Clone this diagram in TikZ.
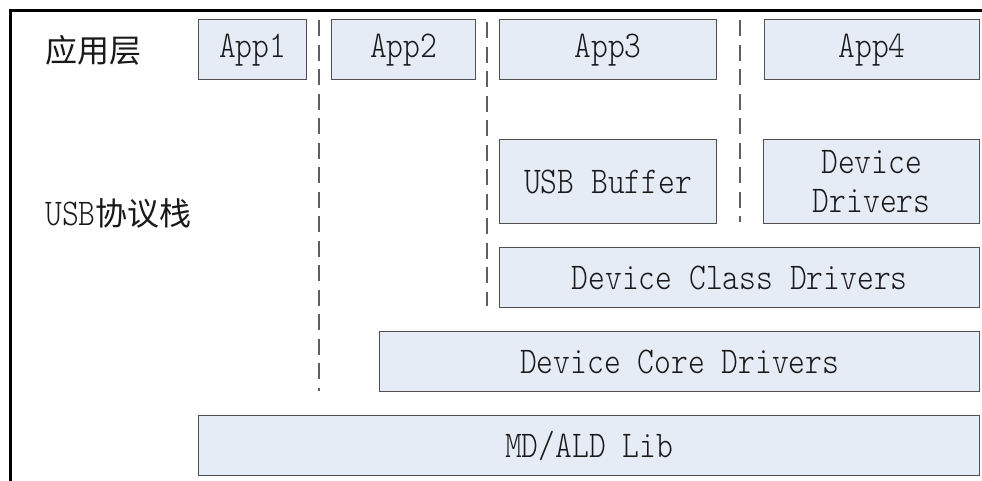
\documentclass[tikz,border=0pt]{standalone}
\usepackage{fontspec}
\newfontfamily\cjk{Noto Sans CJK SC}
\newfontfamily\lmlight{Latin Modern Mono Light}
\newcommand{\tx}[1]{\scalebox{1}[1.18]{#1}}
\definecolor{boxfill}{RGB}{230,236,246}
\definecolor{boxline}{RGB}{80,80,80}
\definecolor{sepgray}{RGB}{95,95,95}
\begin{document}
\begin{tikzpicture}[x=1pt,y=-1pt,
  box/.style={draw=boxline, fill=boxfill, line width=1.2pt, inner sep=0pt, anchor=north west,
    font=\fontsize{32}{39}\selectfont\lmlight, align=center, text=black!90},
  sepline/.style={draw=sepgray, line width=1.3pt, dash pattern=on 16pt off 8.5pt},
  lbl/.style={anchor=west, inner sep=0pt, font=\fontsize{32}{39}\selectfont, text=black!90}]
\useasboundingbox (0,0) rectangle (982,480);
% outer frame
\draw[line width=2.5pt] (10.5,481) -- (10.5,10.5) -- (983,10.5);
% separators
\coordinate (s1a) at (319,20);  \coordinate (s1b) at (319,391);
\coordinate (s2a) at (487,22);  \coordinate (s2b) at (487,306);
\coordinate (s3a) at (740,20);  \coordinate (s3b) at (740,222);
\draw[sepline] (s1a) -- (s1b);
\draw[sepline] (s2a) -- (s2b);
\draw[sepline] (s3a) -- (s3b);
% labels
\node[lbl] (lapp) at (45,50) {\cjk 应用层};
\node[lbl] (lusb) at (45,213) {\tx{\lmlight USB}\cjk 协议栈};
% boxes
\node[box, minimum width=108pt, minimum height=60pt] (app1) at (198,19) {\tx{App1}};
\node[box, minimum width=144pt, minimum height=60pt] (app2) at (331,19) {\tx{App2}};
\node[box, minimum width=217pt, minimum height=60pt] (app3) at (499,19) {\tx{App3}};
\node[box, minimum width=215pt, minimum height=60pt] (app4) at (764,19) {\tx{App4}};
\node[box, minimum width=217pt, minimum height=84pt] (buf) at (499,139) {\tx{USB Buffer}};
\node[box, minimum width=216pt, minimum height=84pt] (dd) at (763,139) {\tx{Device}\\\tx{Drivers}};
\node[box, minimum width=480pt, minimum height=60pt] (dcd) at (499,247) {\tx{Device Class Drivers}};
\node[box, minimum width=600pt, minimum height=60pt] (core) at (379,331) {\tx{Device Core Drivers}};
\node[box, minimum width=781pt, minimum height=60pt] (md) at (198,415) {\tx{MD/ALD Lib}};
\end{tikzpicture}
\end{document}
